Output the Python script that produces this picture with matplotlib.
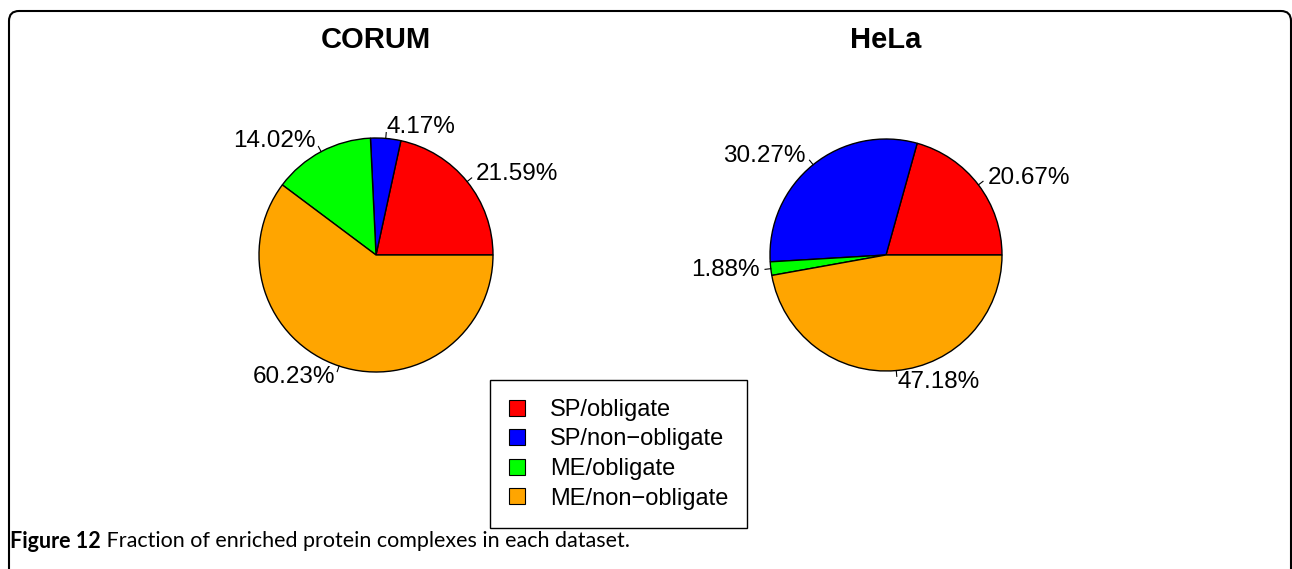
import matplotlib
matplotlib.use('Agg')
import matplotlib.pyplot as plt
from matplotlib.patches import Patch, FancyBboxPatch
import numpy as np

# ---------------------------------------------------------
# data
# ---------------------------------------------------------
categories = ['SP/obligate', 'SP/non\u2212obligate', 'ME/obligate', 'ME/non\u2212obligate']
slice_colors = ['#FF0000', '#0000FF', '#00FF00', '#FFA500']
datasets = ['CORUM', 'HeLa']
corum_pct = [21.59, 4.17, 14.02, 60.23]
hela_pct = [20.67, 30.27, 1.88, 47.18]
caption_bold = 'Figure 12'
caption_rest = ' Fraction of enriched protein complexes in each dataset.'

W, H = 1292, 569
plt.rcParams['font.family'] = ['Liberation Sans', 'DejaVu Sans']

fig = plt.figure(figsize=(W / 100, H / 100), dpi=100)


def draw_pie(cx, cy, r, title, values):
    # axes sized so that radius 1 == r pixels, centred at (cx, cy) px from top-left
    ax = fig.add_axes([(cx - r) / W, (H - cy - r) / H, 2 * r / W, 2 * r / H])
    wedges, _ = ax.pie(values, colors=slice_colors, startangle=0, counterclock=True,
                       wedgeprops=dict(edgecolor='black', linewidth=1.0))
    ax.set_xlim(-1, 1)
    ax.set_ylim(-1, 1)
    ax.axis('off')
    # R-style labels: tick from 1.0 to 1.05, text at 1.1
    for w, v in zip(wedges, values):
        mid = np.deg2rad((w.theta1 + w.theta2) / 2)
        x, y = np.cos(mid), np.sin(mid)
        ax.plot([x, 1.05 * x], [y, 1.05 * y], color='black', lw=0.8, clip_on=False)
        ax.text(1.1 * x, 1.1 * y, f'{v:.2f}%', ha='left' if x >= 0 else 'right',
                va='center', fontsize=17.5)
    fig.text(cx / W, 1 - 40 / H, title, ha='center', va='center',
             fontsize=21, fontweight='bold')


draw_pie(376, 255, 117, datasets[0], corum_pct)
draw_pie(886, 255, 116, datasets[1], hela_pct)

handles = [Patch(facecolor=c, edgecolor='black', linewidth=0.8) for c in slice_colors]
leg = fig.legend(handles, categories, loc='upper left',
                 bbox_to_anchor=(490 / W, 1 - 380 / H), borderaxespad=0,
                 frameon=True, fancybox=False, framealpha=1, edgecolor='black',
                 fontsize=17, handlelength=0.68, handleheight=0.68,
                 handletextpad=1.06, borderpad=0.8, labelspacing=0.32)
leg.get_frame().set_linewidth(1.0)

# caption
t1 = fig.text(10 / W, 1 - 541 / H, caption_bold, ha='left', va='center',
              fontsize=15.5, fontweight='bold', family='Lato')
fig.canvas.draw()
bb = t1.get_window_extent()
fig.text(bb.x1 / W, 1 - 541 / H, caption_rest, ha='left', va='center',
         fontsize=15.5, family='Lato')

# rounded frame (bottom runs off the page)
frame = FancyBboxPatch((0.09, -0.3), 12.82, 5.88,
                       boxstyle='round,pad=0,rounding_size=0.1',
                       transform=fig.dpi_scale_trans, facecolor='none',
                       edgecolor='black', linewidth=1.5)
fig.patches.append(frame)

fig.savefig('out.png', dpi=100, facecolor='white')
